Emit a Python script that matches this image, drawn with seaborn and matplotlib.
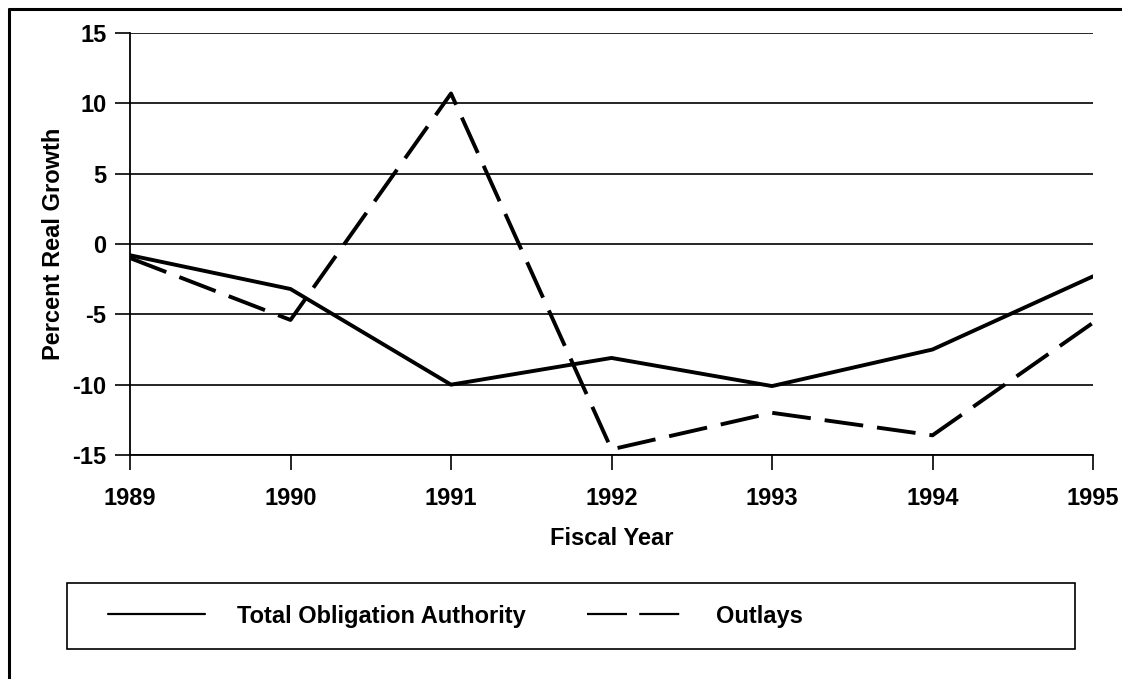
import matplotlib
matplotlib.use("Agg")
import matplotlib.pyplot as plt
import pandas as pd
import seaborn as sns
from matplotlib.lines import Line2D
from matplotlib.patches import Rectangle

# values
years = [1989, 1990, 1991, 1992, 1993, 1994, 1995]
toa = [-0.8, -3.2, -10.0, -8.1, -10.1, -7.5, -2.3]
outlays = [-1.0, -5.4, 10.7, -14.6, -12.0, -13.6, -5.6]
series_names = ['Total Obligation Authority', 'Outlays']
y_ticks = [-15, -10, -5, 0, 5, 10, 15]

df = pd.DataFrame({
    'year': years * 2,
    'value': toa + outlays,
    'series': [series_names[0]] * len(years) + [series_names[1]] * len(years),
})

sns.set_theme(style='white')
plt.rcParams['font.family'] = ['Liberation Sans', 'DejaVu Sans']
plt.rcParams['font.weight'] = 'bold'
plt.rcParams['text.color'] = 'black'
plt.rcParams['axes.labelcolor'] = 'black'
plt.rcParams['xtick.color'] = 'black'
plt.rcParams['ytick.color'] = 'black'
fs = 17

fig = plt.figure(figsize=(11.22, 6.79), dpi=100)
ax = fig.add_axes([130 / 1122, 1 - 455 / 679, (1093 - 130) / 1122, (455 - 33) / 679])

sns.lineplot(data=df, x='year', y='value', style='series', style_order=series_names,
             dashes={series_names[0]: '', series_names[1]: (10, 3.6)},
             color='black', linewidth=2.8, legend=False, ax=ax)

ax.set_xlim(years[0], years[-1])
ax.set_ylim(-15, 15)
ax.set_xticks(years)
ax.set_yticks(y_ticks)
ax.set_xticklabels([str(y) for y in years], fontsize=fs, fontweight='bold')
ax.set_yticklabels([str(t) for t in y_ticks], fontsize=fs, fontweight='bold')
ax.tick_params(axis='both', direction='out', length=11, width=1.2, color='black',
               bottom=True, left=True)
ax.tick_params(axis='y', pad=6)
ax.tick_params(axis='x', pad=12)
ax.yaxis.grid(True, color='black', linewidth=1.2)
ax.xaxis.grid(False)
for s in ['top', 'right']:
    ax.spines[s].set_visible(False)
for s in ['left', 'bottom']:
    ax.spines[s].set_color('black')
    ax.spines[s].set_linewidth(1.3)

ax.set_xlabel('Fiscal Year', fontsize=fs, fontweight='bold', labelpad=12)
ax.set_ylabel('Percent Real Growth', fontsize=fs, fontweight='bold', labelpad=5)

# legend in a plain box below the chart
fig.patches.append(Rectangle((67 / 1122, 1 - 649 / 679), (1075 - 67) / 1122, (649 - 583) / 679,
                             transform=fig.transFigure, fill=False, edgecolor='black', linewidth=1.2))
handles = [Line2D([], [], color='black', linewidth=1.6),
           Line2D([], [], color='black', linewidth=1.6, dashes=(18, 5.5))]
fig.legend(handles, series_names, loc='center left', bbox_to_anchor=(108 / 1122, 1 - 616 / 679),
           ncol=2, frameon=False, prop={'size': fs, 'weight': 'bold'}, borderpad=0,
           borderaxespad=0, handlelength=4.1, handletextpad=1.36, columnspacing=2.6)

# outer frame (left and top edges)
fig.add_artist(Line2D([9 / 1122, 9 / 1122], [0, 1 - 9 / 679], color='black', linewidth=2.2,
                      transform=fig.transFigure))
fig.add_artist(Line2D([9 / 1122, 1], [1 - 9 / 679, 1 - 9 / 679], color='black', linewidth=2.2,
                      transform=fig.transFigure))

fig.savefig('out.png', dpi=100)
